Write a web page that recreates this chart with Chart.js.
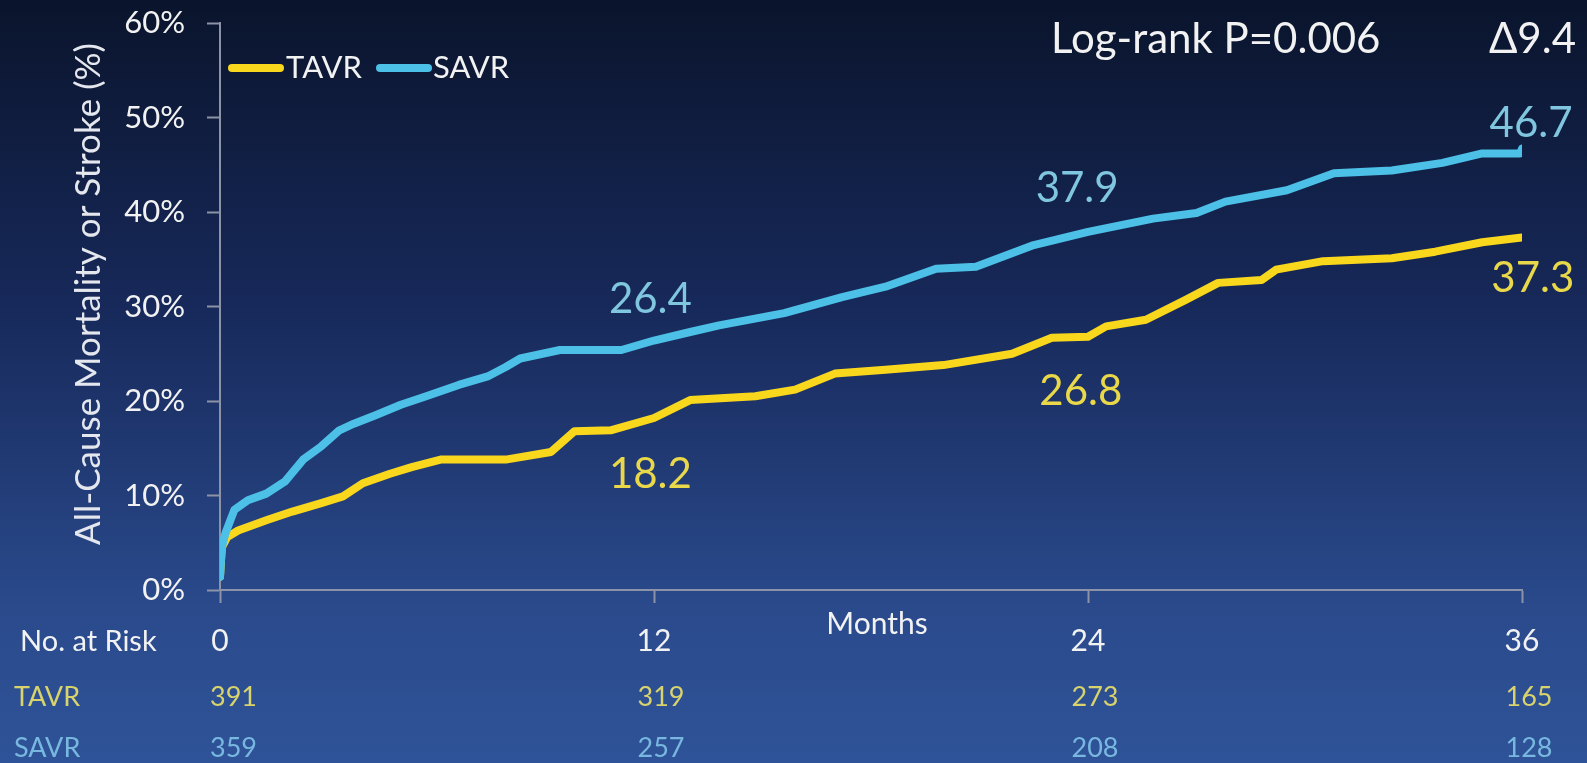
<!DOCTYPE html>
<html lang="en">
<head>
  <meta charset="UTF-8" />
  <title>All-Cause Mortality or Stroke</title>
  <script src="https://cdn.jsdelivr.net/npm/chart.js"></script>
  <style>
    html, body {
      margin: 0;
      padding: 0;
      overflow: hidden;
      background: #1b2f5c;
    }
    #wrap {
      width: 1587px;
      height: 763px;
      position: relative;
    }
  </style>
</head>
<body>
  <div id="wrap"><canvas id="chart"></canvas></div>

  <script>
    // curves (months, %)
    const tavrMonths = [0, 0.05, 0.2, 0.5, 1.3, 2.0, 2.8, 3.4, 3.95, 4.7, 5.3, 6.1, 7.9, 9.15, 9.8, 10.8, 12, 13.0, 14.8, 15.9, 17.0, 18.4, 20.0, 21.9, 23.0, 24, 24.5, 25.6, 26.7, 27.6, 28.8, 29.2, 30.5, 32.4, 33.6, 34.9, 36];
    const tavrRisk = [1.4, 4.5, 5.6, 6.3, 7.4, 8.3, 9.2, 9.9, 11.3, 12.3, 13.0, 13.8, 13.8, 14.6, 16.8, 16.9, 18.2, 20.1, 20.5, 21.2, 22.9, 23.3, 23.8, 25.0, 26.7, 26.8, 27.9, 28.6, 30.7, 32.5, 32.8, 33.9, 34.8, 35.1, 35.8, 36.8, 37.3];

    const savrMonths = [0, 0.05, 0.15, 0.4, 0.77, 1.28, 1.8, 2.3, 2.8, 3.3, 3.7, 4.3, 5.0, 5.7, 6.6, 7.4, 7.9, 8.3, 9.4, 11.1, 12, 13.0, 13.8, 15.6, 17.2, 18.4, 19.8, 20.9, 22.5, 24, 25.8, 27.0, 27.8, 29.5, 30.8, 32.4, 33.8, 34.9, 35.95, 36];
    const savrRisk = [1.4, 4.5, 6.0, 8.5, 9.5, 10.2, 11.5, 13.8, 15.2, 16.9, 17.6, 18.5, 19.6, 20.5, 21.7, 22.6, 23.6, 24.5, 25.4, 25.4, 26.4, 27.3, 28.0, 29.3, 31.0, 32.1, 34.0, 34.2, 36.5, 37.9, 39.3, 39.9, 41.1, 42.3, 44.1, 44.4, 45.2, 46.2, 46.2, 46.7];

    // number at risk table
    const riskMonths = [0, 12, 24, 36];
    const tavrAtRisk = [391, 319, 273, 165];
    const savrAtRisk = [359, 257, 208, 128];

    // value labels on the curves: [text, month, %, series]
    const curveNotes = [
      ["26.4", 11.9, 29.3, "savr"],
      ["37.9", 23.7, 41.1, "savr"],
      ["46.7", 36.25, 47.9, "savr"],
      ["18.2", 11.9, 10.8, "tavr"],
      ["26.8", 23.8, 19.6, "tavr"],
      ["37.3", 36.3, 31.5, "tavr"],
    ];

    const YELLOW = "#f9d71c";
    const BLUE = "#4cc0e6";
    const AXIS = "#8c93a6";

    Chart.defaults.font.family = "Lato, 'Open Sans', sans-serif";

    function toPoints(xs, ys) {
      return xs.map((m, i) => ({ x: m, y: ys[i] }));
    }

    function text(ctx, str, x, y, size, color, align) {
      ctx.font = size + "px Lato, 'Open Sans', sans-serif";
      ctx.fillStyle = color;
      ctx.textAlign = align || "left";
      ctx.textBaseline = "middle";
      ctx.fillText(str, x, y);
    }

    const background = {
      id: "background",
      beforeDraw(chart) {
        const { ctx, width, height } = chart;
        const g = ctx.createLinearGradient(0, 0, 0, height);
        g.addColorStop(0, "#0a142c");
        g.addColorStop(0.4, "#17295a");
        g.addColorStop(0.8, "#2a4a8c");
        g.addColorStop(1, "#2f5398");
        ctx.save();
        ctx.fillStyle = g;
        ctx.fillRect(0, 0, width, height);
        ctx.restore();
      },
    };

    const extras = {
      id: "extras",
      afterDraw(chart) {
        const { ctx } = chart;
        const xs = chart.scales.x;
        const ys = chart.scales.y;
        ctx.save();

        // y title
        ctx.save();
        ctx.translate(89, 294);
        ctx.rotate(-Math.PI / 2);
        text(ctx, "All-Cause Mortality or Stroke (%)", 0, 0, 35, "#e4e7ee", "center");
        ctx.restore();

        // legend
        ctx.lineCap = "round";
        ctx.lineWidth = 8;
        ctx.strokeStyle = YELLOW;
        ctx.beginPath(); ctx.moveTo(232, 68); ctx.lineTo(280, 68); ctx.stroke();
        text(ctx, "TAVR", 286, 68, 31, "#f2f2f2");
        ctx.strokeStyle = BLUE;
        ctx.beginPath(); ctx.moveTo(380, 68); ctx.lineTo(428, 68); ctx.stroke();
        text(ctx, "SAVR", 433, 68, 31, "#f2f2f2");

        // header notes
        ctx.textBaseline = "alphabetic";
        ctx.font = "42px Lato, 'Open Sans', sans-serif";
        ctx.fillStyle = "#f2f2f2";
        ctx.textAlign = "left";
        ctx.fillText("Log-rank P=0.006", 1051, 53);
        ctx.textAlign = "right";
        ctx.fillText("\u03949.4", 1576, 53);

        // values on curves
        ctx.textAlign = "center";
        curveNotes.forEach(([str, m, v, s]) => {
          ctx.fillStyle = s === "savr" ? "#7fc6de" : "#e9d84a";
          ctx.fillText(str, xs.getPixelForValue(m), ys.getPixelForValue(v));
        });

        // axis caption and risk table
        text(ctx, "Months", 877, 624, 30, "#f2f2f2", "center");
        text(ctx, "No. at Risk", 20, 642, 29, "#f2f2f2");
        text(ctx, "TAVR", 14, 697, 27, "#d8d36c");
        text(ctx, "SAVR", 14, 748, 27, "#78b8e0");
        riskMonths.forEach((m, i) => {
          const px = xs.getPixelForValue(m);
          const x = i === 0 ? px - 10 : px + 7;
          const al = i === 0 ? "left" : "center";
          text(ctx, String(tavrAtRisk[i]), x, 697, 27, "#d8d36c", al);
          text(ctx, String(savrAtRisk[i]), x, 748, 27, "#78b8e0", al);
        });

        ctx.restore();
      },
    };

    new Chart(document.getElementById("chart"), {
      type: "line",
      data: {
        datasets: [
          {
            label: "TAVR",
            data: toPoints(tavrMonths, tavrRisk),
            borderColor: YELLOW,
            borderWidth: 8,
            pointRadius: 0,
            tension: 0,
            borderCapStyle: "round",
            borderJoinStyle: "round",
            order: 1,
          },
          {
            label: "SAVR",
            data: toPoints(savrMonths, savrRisk),
            borderColor: BLUE,
            borderWidth: 8,
            pointRadius: 0,
            tension: 0,
            borderCapStyle: "round",
            borderJoinStyle: "round",
            order: 0,
          },
        ],
      },
      options: {
        responsive: true,
        maintainAspectRatio: false,
        animation: false,
        layout: { padding: { top: 23, right: 65, left: 0, bottom: 0 } },
        plugins: {
          legend: { display: false },
          tooltip: { enabled: false },
        },
        scales: {
          x: {
            type: "linear",
            min: 0,
            max: 36,
            afterFit(s) {
              s.height = 173;
              s.paddingLeft = 0;
              s.paddingRight = 0;
            },
            ticks: {
              stepSize: 12,
              color: "#f2f2f2",
              font: { size: 30 },
              padding: 20,
              maxRotation: 0,
            },
            grid: {
              drawOnChartArea: false,
              tickLength: 13,
              tickColor: AXIS,
              tickWidth: 2,
            },
            border: { color: AXIS, width: 2 },
          },
          y: {
            min: 0,
            max: 60,
            afterFit(s) {
              s.width = 220;
              s.paddingTop = 0;
              s.paddingBottom = 0;
            },
            ticks: {
              stepSize: 10,
              color: "#f2f2f2",
              font: { size: 31 },
              padding: 22,
              callback: (v) => v + "%",
            },
            grid: {
              drawOnChartArea: false,
              tickLength: 13,
              tickColor: AXIS,
              tickWidth: 2,
            },
            border: { color: AXIS, width: 2 },
          },
        },
      },
      plugins: [background, extras],
    });
  </script>
</body>
</html>
